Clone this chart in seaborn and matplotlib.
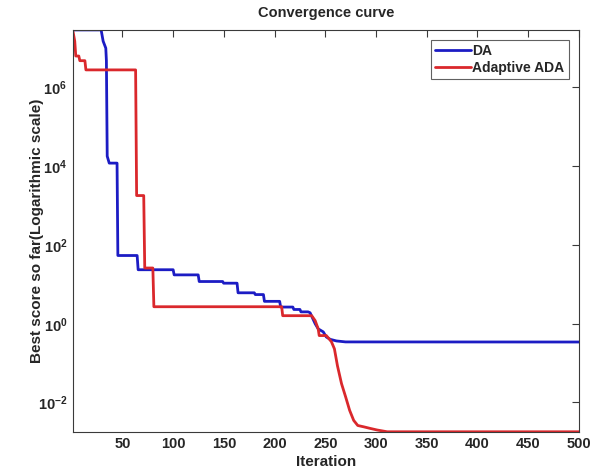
import numpy as np
import pandas as pd
import matplotlib
matplotlib.use("Agg")
import matplotlib.pyplot as plt
import seaborn as sns
from matplotlib.ticker import NullLocator, FixedLocator
from matplotlib.lines import Line2D

# ---- data (vertices) ----
da_iter = [1, 29, 31, 33.6, 34.2, 35, 37, 44.7, 45.5, 64.5, 65.5, 100, 101, 124.7, 125.7,
           148.8, 149.8, 163, 164, 180, 181, 189, 190, 205, 206, 218, 219, 225, 226, 233,
           235, 240, 243, 248, 251, 255, 261, 270, 500]
da_score = [2.9e7, 2.9e7, 1.5e7, 1.0e7, 4.8e6, 1.8e4, 1.2e4, 1.2e4, 54, 54, 23.5, 23.5, 17.4, 17.4, 11.8,
            11.8, 10.7, 10.7, 6.1, 6.1, 5.5, 5.5, 3.7, 3.7, 2.65, 2.65, 2.3, 2.3, 2.0, 2.0,
            1.9, 1.0, 0.74, 0.62, 0.46, 0.40, 0.365, 0.345, 0.343]

ada_iter = [1, 3, 4, 7, 8, 13, 14, 63, 64, 71, 72, 80, 81, 207, 208, 236.6, 240, 243, 244, 251,
            256, 259, 262, 266, 270, 274, 278, 282, 288, 294, 301, 311, 500]
ada_score = [2.9e7, 1.5e7, 6.3e6, 6.3e6, 4.8e6, 4.8e6, 2.8e6, 2.8e6, 1.8e3, 1.8e3, 26, 26, 2.7, 2.7, 1.6, 1.6, 1.2, 0.74, 0.5, 0.5,
             0.35, 0.23, 0.085, 0.03, 0.014, 0.0063, 0.0035, 0.0026, 0.0024, 0.0022, 0.0020, 0.0018, 0.0018]

series_names = ["DA", "Adaptive ADA"]
series_colors = ["#1c1cc4", "#da282c"]
x_ticks = [50, 100, 150, 200, 250, 300, 350, 400, 450, 500]
y_ticks = [1e-2, 1e0, 1e2, 1e4, 1e6]

df = pd.concat([
    pd.DataFrame({"Iteration": da_iter, "Score": da_score, "Series": series_names[0]}),
    pd.DataFrame({"Iteration": ada_iter, "Score": ada_score, "Series": series_names[1]}),
], ignore_index=True)

sns.set_style("white")
plt.rcParams["font.family"] = ["Liberation Sans", "DejaVu Sans"]
plt.rcParams["font.weight"] = "bold"

fig = plt.figure(figsize=(6.03, 4.75), dpi=100)
ax = fig.add_axes([0.1206, 0.091, 0.8394, 0.846])

sns.lineplot(data=df, x="Iteration", y="Score", hue="Series", palette=dict(zip(series_names, series_colors)),
             estimator=None, sort=False, linewidth=2.0, ax=ax, legend=False)

ax.set_yscale("log")
ax.set_xlim(1, 500)
ax.set_ylim(1.8e-3, 2.9e7)
ax.xaxis.set_major_locator(FixedLocator(x_ticks))
ax.yaxis.set_major_locator(FixedLocator(y_ticks))
ax.yaxis.set_minor_locator(NullLocator())
ax.xaxis.set_minor_locator(NullLocator())

for sp in ax.spines.values():
    sp.set_visible(True)
    sp.set_color("#3a3a3a")
    sp.set_linewidth(0.8)

ax.tick_params(axis="both", which="major", direction="in", top=True, right=True,
               length=5, width=0.8, color="#3a3a3a", labelsize=10.5, pad=4)
for lab in ax.get_xticklabels() + ax.get_yticklabels():
    lab.set_fontweight("bold")

ax.set_xlabel("Iteration", fontsize=11, fontweight="bold", labelpad=3)
ax.set_ylabel("Best score so far(Logarithmic scale)", fontsize=11, fontweight="bold", labelpad=-5)
ax.set_title("Convergence curve", fontsize=10.5, fontweight="bold", pad=9.5)

handles = [Line2D([0], [0], color=c, lw=2.0) for c in series_colors]
leg = ax.legend(handles, series_names, loc="upper right", bbox_to_anchor=(0.98, 0.975),
                frameon=True, fancybox=False, handlelength=2.6, handletextpad=0.1,
                borderpad=0.3, labelspacing=0.2, borderaxespad=0.0,
                prop={"weight": "bold", "size": 10})
leg.get_frame().set_edgecolor("#3a3a3a")
leg.get_frame().set_linewidth(0.8)

fig.savefig("out.png", dpi=100)
